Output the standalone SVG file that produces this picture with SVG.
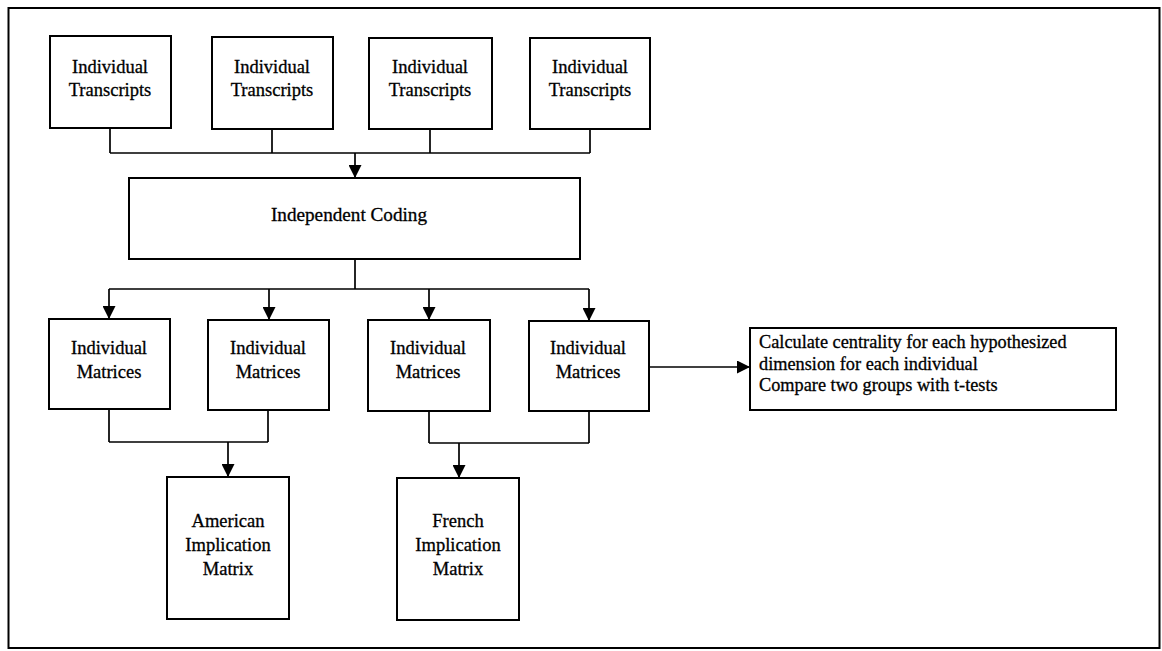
<svg xmlns="http://www.w3.org/2000/svg" width="1162" height="651" viewBox="0 0 1162 651">
  <style>
    .box { fill: #ffffff; stroke: #000000; stroke-width: 2; }
    .frame { fill: none; stroke: #000000; stroke-width: 2; }
    .lbl { font-family: "Liberation Serif", "Times New Roman", serif; font-size: 18.5px; fill: #000000; stroke: #000000; stroke-width: 0.3; text-anchor: middle; }
    .lbl-left { font-family: "Liberation Serif", "Times New Roman", serif; font-size: 18.3px; fill: #000000; stroke: #000000; stroke-width: 0.3; }
    .wire { fill: none; stroke: #000000; stroke-width: 1.7; }
  </style>
  <defs>
    <marker id="arrow" markerUnits="userSpaceOnUse" markerWidth="13" markerHeight="13" viewBox="0 0 12 12" refX="12" refY="6" orient="auto">
      <path d="M0,0 L12,6 L0,12 z" fill="#000000"/>
    </marker>
  </defs>

  <rect width="1162" height="651" fill="#ffffff"/>

  <!-- outer frame -->
  <rect class="frame" x="8.5" y="8" width="1151" height="640"/>

  <!-- transcripts row -->
  <g id="transcripts-1">
    <rect class="box" x="50" y="36" width="121" height="92"/>
    <text class="lbl" x="110" y="73">Individual</text>
    <text class="lbl" x="110" y="96">Transcripts</text>
  </g>
  <g id="transcripts-2">
    <rect class="box" x="212" y="37" width="121" height="92"/>
    <text class="lbl" x="272" y="73">Individual</text>
    <text class="lbl" x="272" y="96">Transcripts</text>
  </g>
  <g id="transcripts-3">
    <rect class="box" x="369" y="38" width="123" height="91"/>
    <text class="lbl" x="430" y="73">Individual</text>
    <text class="lbl" x="430" y="96">Transcripts</text>
  </g>
  <g id="transcripts-4">
    <rect class="box" x="530" y="38" width="120" height="91"/>
    <text class="lbl" x="590" y="73">Individual</text>
    <text class="lbl" x="590" y="96">Transcripts</text>
  </g>

  <!-- coding step -->
  <g id="independent-coding">
    <rect class="box" x="129" y="178" width="451" height="81"/>
    <text class="lbl" x="349" y="221" style="font-size:19.2px">Independent Coding</text>
  </g>

  <!-- matrices row -->
  <g id="matrices-1">
    <rect class="box" x="49" y="319" width="121" height="90"/>
    <text class="lbl" x="109" y="354">Individual</text>
    <text class="lbl" x="109" y="378">Matrices</text>
  </g>
  <g id="matrices-2">
    <rect class="box" x="208" y="320" width="121" height="90"/>
    <text class="lbl" x="268" y="354">Individual</text>
    <text class="lbl" x="268" y="378">Matrices</text>
  </g>
  <g id="matrices-3">
    <rect class="box" x="368" y="320" width="122" height="91"/>
    <text class="lbl" x="428" y="354">Individual</text>
    <text class="lbl" x="428" y="378">Matrices</text>
  </g>
  <g id="matrices-4">
    <rect class="box" x="529" y="321" width="120" height="90"/>
    <text class="lbl" x="588" y="354">Individual</text>
    <text class="lbl" x="588" y="378">Matrices</text>
  </g>

  <!-- centrality analysis -->
  <g id="centrality">
    <rect class="box" x="750" y="328" width="366" height="82"/>
    <text class="lbl-left" x="759" y="348">Calculate centrality for each hypothesized</text>
    <text class="lbl-left" x="759" y="369.5">dimension for each individual</text>
    <text class="lbl-left" x="759" y="391">Compare two groups with t-tests</text>
  </g>

  <!-- group matrices -->
  <g id="american-matrix">
    <rect class="box" x="167" y="477" width="122" height="142"/>
    <text class="lbl" x="228" y="527">American</text>
    <text class="lbl" x="228" y="551">Implication</text>
    <text class="lbl" x="228" y="575">Matrix</text>
  </g>
  <g id="french-matrix">
    <rect class="box" x="397" y="478" width="122" height="142"/>
    <text class="lbl" x="458" y="527">French</text>
    <text class="lbl" x="458" y="551">Implication</text>
    <text class="lbl" x="458" y="575">Matrix</text>
  </g>

  <!-- connectors -->
  <g id="connectors">
    <path class="wire" d="M110,128 V153 M272,129 V153 M430,129 V153 M590,129 V153 M110,153 H590"/>
    <path class="wire" d="M355,153 V178" marker-end="url(#arrow)"/>

    <path class="wire" d="M355,259 V289 M109,289 H589"/>
    <path class="wire" d="M109,289 V319" marker-end="url(#arrow)"/>
    <path class="wire" d="M269,289 V320" marker-end="url(#arrow)"/>
    <path class="wire" d="M429,289 V320" marker-end="url(#arrow)"/>
    <path class="wire" d="M589,289 V321" marker-end="url(#arrow)"/>

    <path class="wire" d="M649,367 H750" marker-end="url(#arrow)"/>

    <path class="wire" d="M109,409 V442 M268,410 V442 M109,442 H268"/>
    <path class="wire" d="M228,442 V477" marker-end="url(#arrow)"/>

    <path class="wire" d="M429,411 V443 M589,411 V443 M429,443 H589"/>
    <path class="wire" d="M459,443 V478" marker-end="url(#arrow)"/>
  </g>
</svg>
